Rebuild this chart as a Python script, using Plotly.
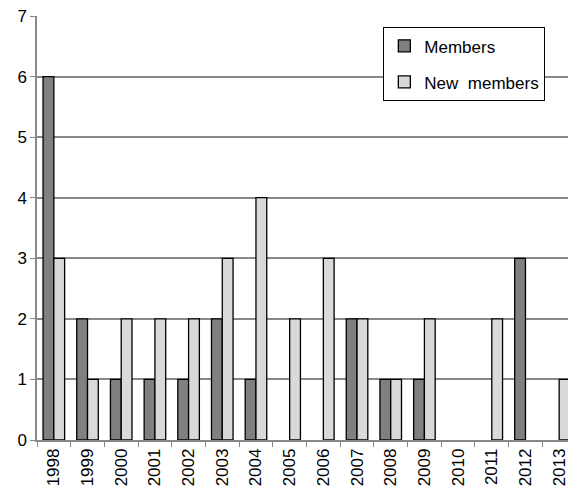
import plotly.graph_objects as go

years = ["1998", "1999", "2000", "2001", "2002", "2003", "2004", "2005",
         "2006", "2007", "2008", "2009", "2010", "2011", "2012", "2013"]
members = [6, 2, 1, 1, 1, 2, 1, 0, 0, 2, 1, 1, 0, 0, 3, 0]
new_members = [3, 1, 2, 2, 2, 3, 4, 2, 3, 2, 1, 2, 0, 2, 0, 1]

def outline(vals):
    return [1.3 if v else 0 for v in vals]

fig = go.Figure()
fig.add_trace(go.Bar(x=years, y=members, name="Members", legendgroup="a",
                     marker=dict(color="#808080", line=dict(color="black", width=outline(members)))))
fig.add_trace(go.Bar(x=years, y=new_members, name="New\u00a0 members", legendgroup="b",
                     marker=dict(color="#d9d9d9", line=dict(color="black", width=outline(new_members)))))

fig.update_layout(
    width=576, height=492, autosize=False,
    margin=dict(l=29, r=8, t=8, b=60, autoexpand=False),
    paper_bgcolor="white", plot_bgcolor="white",
    font=dict(family="Liberation Sans, Arial, sans-serif", size=17, color="black"),
    barmode="group", bargap=0.36, bargroupgap=0,
    showlegend=True,
    legend=dict(x=0.642, y=0.974, xanchor="left", yanchor="top",
                bordercolor="black", borderwidth=1.3, bgcolor="white",
                tracegroupgap=11, font=dict(size=17)),
    xaxis=dict(type="category", tickangle=-90, ticks="outside", tickson="boundaries",
               ticklen=5, tickcolor="#888888", showline=True, linecolor="#888888",
               linewidth=1.5, showgrid=False, ticklabeloverflow="allow", automargin=False),
    yaxis=dict(range=[0, 7], dtick=1, ticks="outside", ticklen=5, tickcolor="#888888",
               showline=True, linecolor="#888888", linewidth=1.5,
               showgrid=True, gridcolor="#888888", gridwidth=1.5, zeroline=False,
               ticklabeloverflow="allow", automargin=False),
)
fig.write_html("out.html")
